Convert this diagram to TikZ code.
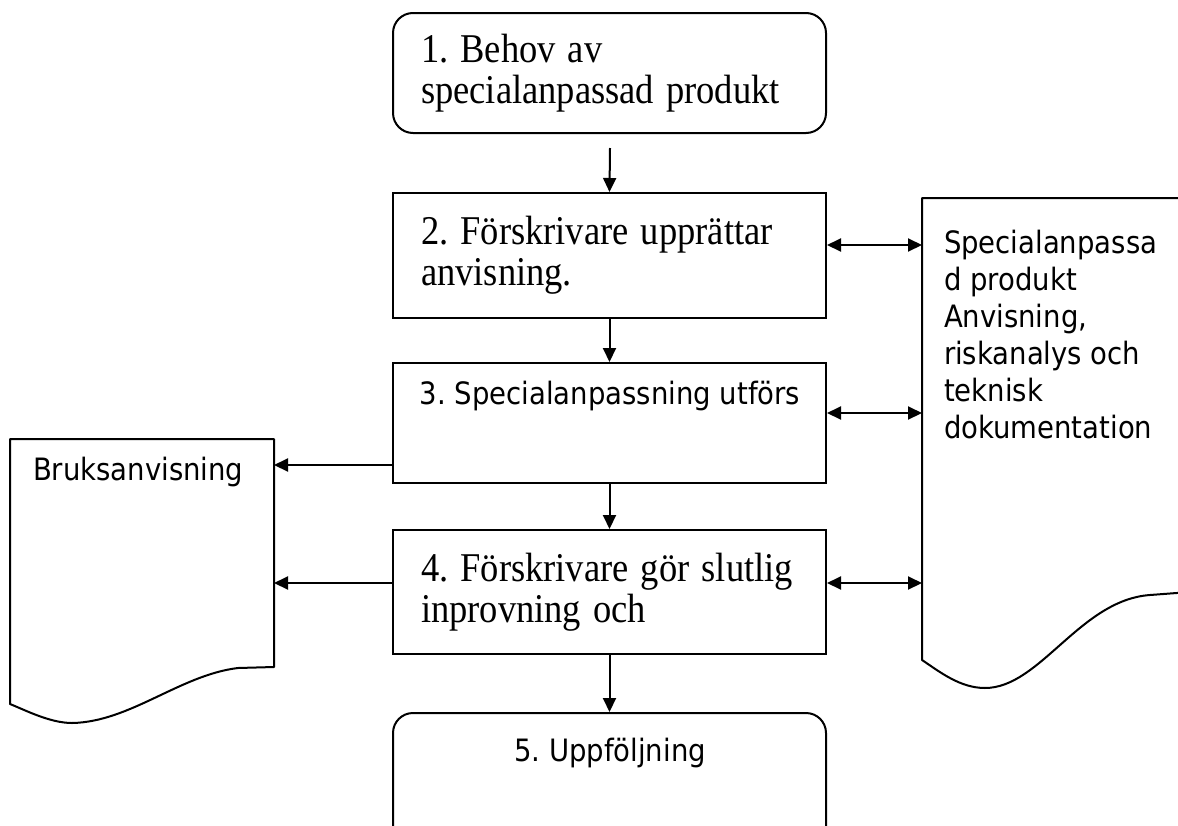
\documentclass[tikz,border=0pt]{standalone}
\usepackage{fontspec}
\usepackage{graphicx}
\setmainfont{Liberation Serif}
\newfontfamily\vsans{DejaVu Sans}
\newcommand{\ysc}[1]{\scalebox{1}[1.12]{#1}}
\usetikzlibrary{arrows.meta}
\begin{document}
\frenchspacing
\begin{tikzpicture}[x=1pt,y=-1pt,line width=2pt,
  procbox/.style={draw,line width=2pt,fill=white,minimum width=433pt,inner sep=0pt,
    align=left,text width=377pt,font=\fontsize{36.5}{41}\selectfont},
  sftext/.style={inner sep=0pt,font=\vsans\fontsize{27.5}{37}\selectfont},
  docshape/.style={draw,line width=2pt,fill=white,line join=round},
  arr/.style={-{Triangle[length=14pt,width=13pt]},line width=2pt},
  darr/.style={{Triangle[length=14pt,width=13pt]}-{Triangle[length=14pt,width=13pt]},line width=2pt}]
\useasboundingbox (0,0) rectangle (1178,825);
\clip (0,0) rectangle (1178,825);

% documents
\draw[docshape] (10,439) -- (274,439) -- (274,667) -- (238,668)
  .. controls (180,675) and (130,722) .. (72,723)
  .. controls (50,723) and (25,710) .. (10,704) -- cycle;
\draw[docshape] (922,198) -- (1190,198) -- (1190,592) -- (1150,595)
  .. controls (1080,600) and (1040,688) .. (985,688)
  .. controls (960,688) and (940,672) .. (922,660) -- cycle;
\node[sftext,anchor=west] (bruk) at (32,472) {\ysc{Bruksanvisning}};
\node[sftext,anchor=north west,align=left] (spec) at (943,229)
  {\ysc{Specialanpassa}\\\ysc{d produkt}\\\ysc{Anvisning,}\\\ysc{riskanalys och}\\\ysc{teknisk}\\\ysc{dokumentation}};

% process boxes
\node[procbox,rounded corners=20pt,minimum height=120pt] (b1) at (609.5,73)
  {\ysc{1. Behov av}\\\ysc{specialanpassad produkt}};
\node[procbox,minimum height=125pt] (b2) at (609.5,255.5)
  {\ysc{2. Förskrivare upprättar}\\\ysc{anvisning.}};
\node[procbox,minimum height=120pt] (b3) at (609.5,423) {};
\node[sftext] (t3) at (610,396) {\ysc{3. Specialanpassning utförs}};
\node[procbox,minimum height=124pt] (b4) at (609.5,592)
  {\ysc{4. Förskrivare gör slutlig}\\\ysc{inprovning och}};
\node[procbox,rounded corners=20pt,minimum height=140pt] (b5) at (609.5,783) {};
\node[sftext] (t5) at (610,753) {\ysc{5. Uppföljning}};

% connectors
\coordinate (a0) at (610,148);
\draw[arr] (a0) -- (b2.north);
\draw[arr] (b2.south) -- (b3.north);
\draw[arr] (b3.south) -- (b4.north);
\draw[arr] (b4.south) -- (b5.north);

\coordinate (r1) at (922,245);
\coordinate (r2) at (922,413);
\coordinate (r3) at (922,583);
\draw[darr] (b2.east |- r1) -- (r1);
\draw[darr] (b3.east |- r2) -- (r2);
\draw[darr] (b4.east |- r3) -- (r3);

\coordinate (l1) at (274,465);
\coordinate (l2) at (274,583);
\draw[arr] (b3.west |- l1) -- (l1);
\draw[arr] (b4.west |- l2) -- (l2);
\end{tikzpicture}
\end{document}
